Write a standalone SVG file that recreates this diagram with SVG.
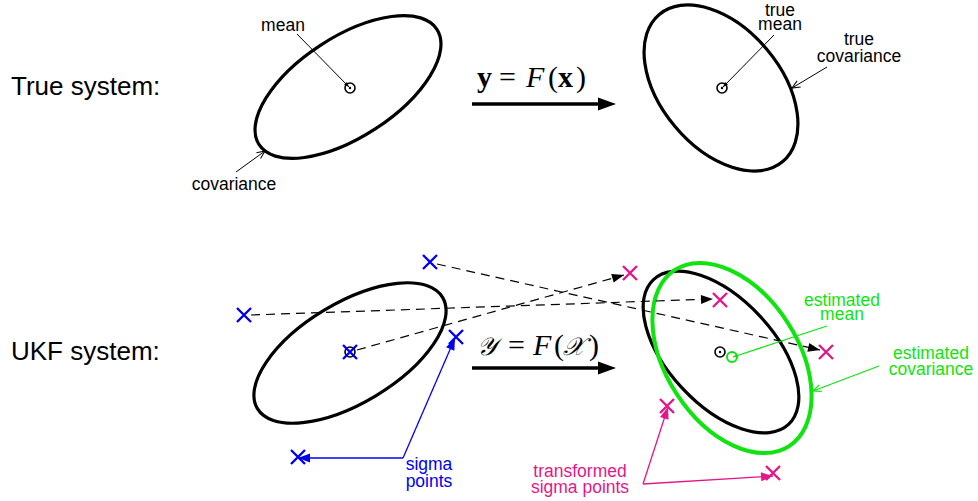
<svg xmlns="http://www.w3.org/2000/svg" width="978" height="501" viewBox="0 0 978 501">
<style>
  .lbl { font-family: "Liberation Sans", Arial, sans-serif; font-size: 17.5px; text-anchor: middle; }
  .big { font-family: "Liberation Sans", Arial, sans-serif; font-size: 26px; }
  .math { font-family: "Liberation Serif", "DejaVu Serif", serif; font-size: 30px; fill: #000; }
  .cal { font-size: 25px; font-style: italic; }
  .ell { fill: none; stroke: #000; stroke-width: 3.2; }
  .gell { fill: none; stroke: #11e311; stroke-width: 4; }
  .mc { fill: none; stroke: #000; stroke-width: 1.6; }
  .gmc { fill: none; stroke: #11e311; stroke-width: 2; }
  .bx { stroke: #0000f0; stroke-width: 2.4; fill: none; }
  .px { stroke: #e3178a; stroke-width: 2.4; fill: none; }
  .dash { stroke: #000; stroke-width: 1.2; stroke-dasharray: 9 6; fill: none; }
  .ann { stroke: #000; stroke-width: 1; fill: none; }
  .gann { stroke: #11e311; stroke-width: 1.3; fill: none; }
  .bann { stroke: #0000f0; stroke-width: 1.3; fill: none; }
  .pann { stroke: #e3178a; stroke-width: 1.3; fill: none; }
</style>
<defs>
  <marker id="openK" viewBox="-10 -5 12 10" refX="0" refY="0" markerWidth="12" markerHeight="10" markerUnits="userSpaceOnUse" orient="auto">
    <path d="M-8,-3.5 L0,0 L-8,3.5" fill="none" stroke="#000" stroke-width="1"/>
  </marker>
  <marker id="openG" viewBox="-10 -5 12 10" refX="0" refY="0" markerWidth="12" markerHeight="10" markerUnits="userSpaceOnUse" orient="auto">
    <path d="M-8,-3.5 L0,0 L-8,3.5" fill="none" stroke="#11e311" stroke-width="1.3"/>
  </marker>
  <marker id="smallK" viewBox="-6 -3 7 6" refX="0" refY="0" markerWidth="7" markerHeight="6" markerUnits="userSpaceOnUse" orient="auto">
    <path d="M-5,-2 L0,0 L-5,2 Z" fill="#000"/>
  </marker>
  <marker id="smallG" viewBox="-6 -3 7 6" refX="0" refY="0" markerWidth="7" markerHeight="6" markerUnits="userSpaceOnUse" orient="auto">
    <path d="M-5,-2 L0,0 L-5,2 Z" fill="#11e311"/>
  </marker>
  <marker id="fillK" viewBox="-13 -6 14 12" refX="0" refY="0" markerWidth="14" markerHeight="12" markerUnits="userSpaceOnUse" orient="auto">
    <path d="M-12,-4.5 L0,0 L-12,4.5 Z" fill="#000"/>
  </marker>
  <marker id="fillB" viewBox="-13 -6 14 12" refX="0" refY="0" markerWidth="14" markerHeight="12" markerUnits="userSpaceOnUse" orient="auto">
    <path d="M-12,-4.5 L0,0 L-12,4.5 Z" fill="#0000f0"/>
  </marker>
  <marker id="fillP" viewBox="-13 -6 14 12" refX="0" refY="0" markerWidth="14" markerHeight="12" markerUnits="userSpaceOnUse" orient="auto">
    <path d="M-12,-4.5 L0,0 L-12,4.5 Z" fill="#e3178a"/>
  </marker>
</defs>

<g id="row-labels">
  <text class="big" x="11" y="95">True system:</text>
  <text class="big" x="11" y="360">UKF system:</text>
</g>

<g id="true-prior">
  <ellipse class="ell" cx="348" cy="87" rx="106" ry="50" transform="rotate(-33 348 87)"/>
  <circle class="mc" cx="350" cy="88" r="5"/>
  <circle cx="350" cy="88" r="1.2" fill="#000"/>
</g>

<g id="true-posterior">
  <ellipse class="ell" cx="721" cy="88" rx="96" ry="60" transform="rotate(50 721 88)"/>
  <circle class="mc" cx="722" cy="88" r="5"/>
  <circle cx="722" cy="88" r="1.2" fill="#000"/>
</g>

<g id="ukf-prior">
  <ellipse class="ell" cx="350" cy="353" rx="108" ry="50" transform="rotate(-31 350 353)"/>
  <circle class="mc" cx="350" cy="352" r="5"/>
</g>

<g id="ukf-posterior">
  <ellipse class="ell" cx="721" cy="352" rx="99" ry="53" transform="rotate(47 721 352)"/>
  <ellipse class="gell" cx="732" cy="358" rx="105" ry="66" transform="rotate(57 732 358)"/>
  <circle class="mc" cx="720" cy="352" r="5"/>
  <circle cx="720" cy="352" r="1.2" fill="#000"/>
  <circle class="gmc" cx="732" cy="357" r="5"/>
</g>

<g id="sigma-points">
  <path class="bx" d="M423,255 L437,269 M437,255 L423,269"/>
  <path class="bx" d="M237,308 L251,322 M251,308 L237,322"/>
  <path class="bx" d="M343,345 L357,359 M357,345 L343,359"/>
  <path class="bx" d="M449,330 L463,344 M463,330 L449,344"/>
  <path class="bx" d="M291,450 L305,464 M305,450 L291,464"/>
</g>

<g id="transformed-points">
  <path class="px" d="M623,266 L637,280 M637,266 L623,280"/>
  <path class="px" d="M713,293 L727,307 M727,293 L713,307"/>
  <path class="px" d="M819,345 L833,359 M833,345 L819,359"/>
  <path class="px" d="M660,399 L674,413 M674,399 L660,413"/>
  <path class="px" d="M766,466 L780,480 M780,466 L766,480"/>
</g>

<g id="transforms">
  <line x1="472" y1="104" x2="600" y2="104" stroke="#000" stroke-width="3.5"/>
  <path d="M598,97.5 L616,104 L598,110.5 Z" fill="#000"/>
  <text class="math" y="87"><tspan x="477" font-weight="bold">y</tspan><tspan x="499">=</tspan><tspan x="526" font-style="italic">F</tspan><tspan x="548">(</tspan><tspan x="558" font-weight="bold">x</tspan><tspan x="576">)</tspan></text>
  <line x1="472" y1="368" x2="600" y2="368" stroke="#000" stroke-width="3.5"/>
  <path d="M598,361.5 L616,368 L598,374.5 Z" fill="#000"/>
  <text class="math" y="355"><tspan x="477" class="cal">𝒴</tspan><tspan x="508">=</tspan><tspan x="533" font-style="italic">F</tspan><tspan x="554">(</tspan><tspan x="563" class="cal">𝒳</tspan><tspan x="589">)</tspan></text>
</g>

<g id="connectors">
  <line class="dash" x1="437" y1="264" x2="820" y2="350" marker-end="url(#fillK)"/>
  <line class="dash" x1="251" y1="315" x2="713" y2="299" marker-end="url(#fillK)"/>
  <line class="dash" x1="357" y1="350" x2="624" y2="275" marker-end="url(#fillK)"/>

  <line class="ann" x1="297" y1="34" x2="349" y2="87" marker-end="url(#smallK)"/>
  <line class="ann" x1="236" y1="172" x2="265" y2="151" marker-end="url(#openK)"/>
  <line class="ann" x1="774" y1="35" x2="723" y2="87" marker-end="url(#smallK)"/>
  <line class="ann" x1="827" y1="67" x2="792" y2="88" marker-end="url(#openK)"/>

  <line class="gann" x1="827" y1="326" x2="733" y2="357" marker-end="url(#smallG)"/>
  <line class="gann" x1="879" y1="366" x2="813" y2="391" marker-end="url(#openG)"/>

  <line class="bann" x1="403" y1="458" x2="298" y2="458" marker-end="url(#fillB)"/>
  <line class="bann" x1="403" y1="458" x2="455" y2="338" marker-end="url(#fillB)"/>

  <line class="pann" x1="643" y1="484" x2="668" y2="407" marker-end="url(#fillP)"/>
  <line class="pann" x1="643" y1="484" x2="773" y2="476" marker-end="url(#fillP)"/>
</g>

<g id="annotations">
  <text class="lbl" x="283" y="31">mean</text>
  <text class="lbl" x="234" y="190">covariance</text>
  <text class="lbl"><tspan x="780" y="16">true</tspan><tspan x="780" y="30">mean</tspan></text>
  <text class="lbl"><tspan x="859" y="45">true</tspan><tspan x="859" y="62">covariance</tspan></text>
  <text class="lbl" fill="#11e311"><tspan x="842" y="306">estimated</tspan><tspan x="842" y="320">mean</tspan></text>
  <text class="lbl" fill="#11e311"><tspan x="931" y="359">estimated</tspan><tspan x="931" y="375">covariance</tspan></text>
  <text class="lbl" fill="#0000f0"><tspan x="429" y="470">sigma</tspan><tspan x="429" y="487">points</tspan></text>
  <text class="lbl" fill="#e3178a"><tspan x="580" y="477">transformed</tspan><tspan x="580" y="493">sigma points</tspan></text>
</g>
</svg>
